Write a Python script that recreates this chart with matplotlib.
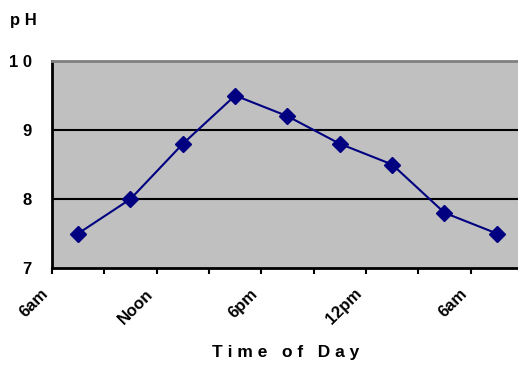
import matplotlib
matplotlib.use("Agg")
import matplotlib.pyplot as plt
from matplotlib.ticker import FixedLocator, NullFormatter

plt.rcParams['font.family'] = ['Liberation Sans', 'DejaVu Sans']

ph_values = [7.5, 8.0, 8.8, 9.5, 9.2, 8.8, 8.5, 7.8, 7.5]
tick_labels = ["6am", "Noon", "6pm", "12pm", "6am"]
y_ticks = [7, 8, 9, 10]

W, H = 518, 366
fig = plt.figure(figsize=(W / 100, H / 100), dpi=100)
left, right, top, bottom = 52, 523, 61, 268
ax = fig.add_axes([left / W, (H - bottom) / H, (right - left) / W, (bottom - top) / H])
ax.set_facecolor("#c0c0c0")

x = [i + 0.5 for i in range(len(ph_values))]
ax.plot(x, ph_values, color="#000080", lw=1.5, marker="D", markersize=8.5,
        markerfacecolor="#000080", markeredgecolor="#000080", zorder=3)

ax.set_xlim(0, len(ph_values))
ax.set_ylim(7, 10)
for yv in [8, 9]:
    ax.axhline(yv, color="black", lw=1.5, zorder=2)

ax.set_yticks(y_ticks)
ax.set_yticklabels([" ".join(str(v)) for v in y_ticks], fontsize=12, fontweight="bold")
ax.tick_params(axis="y", length=0, pad=14.5)

ax.xaxis.set_major_locator(FixedLocator(list(range(0, len(ph_values) + 1))))
ax.xaxis.set_major_formatter(NullFormatter())
ax.tick_params(axis="x", length=4, width=1.5, direction="out")
for i, lab in enumerate(tick_labels):
    ax.text(2 * i - 0.12, 6.66, lab, rotation=45, ha="right", va="center",
            rotation_mode="anchor", fontsize=12, fontweight="bold",
            transform=ax.transData, clip_on=False)

for s in ["left", "bottom"]:
    ax.spines[s].set_color("black")
    ax.spines[s].set_linewidth(2)
ax.spines["top"].set_color("#808080")
ax.spines["top"].set_linewidth(2)
ax.spines["right"].set_visible(False)

fig.text(10 / W, 1 - 20 / H, "p H", fontsize=12, fontweight="bold", va="center", ha="left")
fig.text(286 / W, 1 - 352 / H, "T i m e   o f   D a y", fontsize=12.5, fontweight="bold",
         va="center", ha="center")

fig.savefig("out.png", dpi=100)
